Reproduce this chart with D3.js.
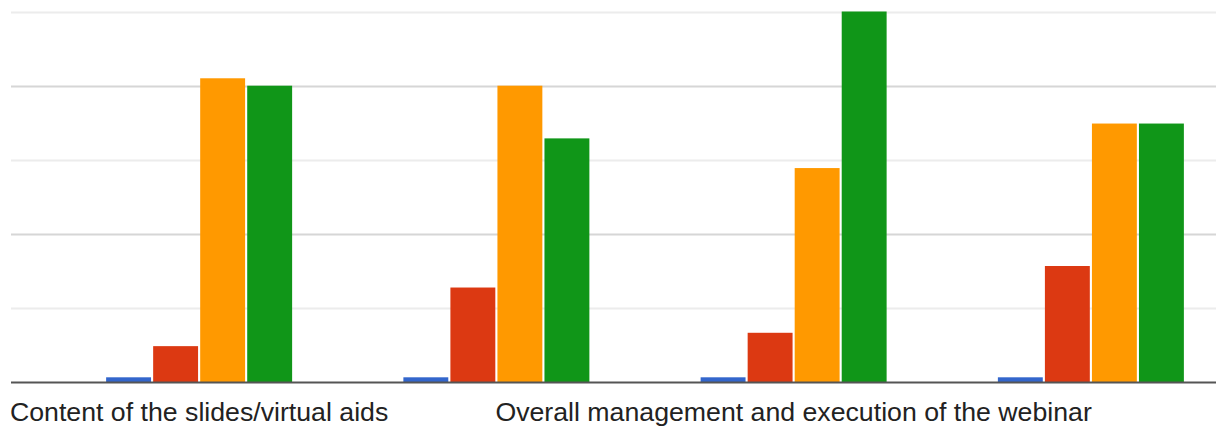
<!DOCTYPE html>
<html>
<head>
<meta charset="utf-8">
<script src="https://cdn.jsdelivr.net/npm/d3@7"></script>
<style>
  html, body { margin: 0; padding: 0; background: #fff; overflow: hidden; }
  svg { display: block; }
</style>
</head>
<body>
<svg id="chart" width="1216" height="429"></svg>
<script>
// ---- data ----
const categories = [
  "Content of the slides/virtual aids",
  "Presentation skills of the speaker",
  "Overall management and execution of the webinar",
  "Relevance of the topic"
];
const shownLabels = [true, false, true, false];
const seriesNames = ["Poor", "Fair", "Good", "Excellent"];
const seriesColors = ["#3366cc", "#dc3912", "#ff9900", "#109618"];
const poor      = [0.7, 0.7, 0.7, 0.7];
const fair      = [4.9, 12.8, 6.7, 15.7];
const good      = [41.0, 40.0, 28.9, 34.9];
const excellent = [40.0, 32.9, 50.0, 34.9];
const gridTicks = [10, 20, 30, 40, 50];
const majorTicks = [20, 40];

const seriesValues = [poor, fair, good, excellent];

// ---- layout ----
const W = 1216, H = 429;
const gridLeft = 11;
const baseY = 382.5, topY = 11.5;

const svg = d3.select("#chart");

const x0 = d3.scaleBand().domain(categories).range([50.5, 1239.5]).paddingInner(0).paddingOuter(0);
const groupW = 186;
const x1 = d3.scaleBand().domain(seriesNames).range([0, groupW]).paddingInner(0.045).paddingOuter(0);
const y = d3.scaleLinear().domain([0, 50]).range([baseY, topY]);

// gridlines
svg.append("g").selectAll("line").data(gridTicks).join("line")
  .attr("x1", gridLeft).attr("x2", W)
  .attr("y1", d => Math.round(y(d)) + 0.5).attr("y2", d => Math.round(y(d)) + 0.5)
  .attr("stroke", d => majorTicks.includes(d) ? "#d6d6d6" : "#ececec")
  .attr("stroke-width", 2);

// bars
const groups = svg.append("g").selectAll("g").data(categories).join("g")
  .attr("transform", c => `translate(${x0(c) + x0.bandwidth() / 2 - groupW / 2},0)`);

groups.selectAll("rect")
  .data((c, i) => seriesNames.map((s, j) => ({ s, v: seriesValues[j][i], color: seriesColors[j] })))
  .join("rect")
  .attr("x", d => x1(d.s))
  .attr("width", x1.bandwidth())
  .attr("y", d => y(d.v))
  .attr("height", d => baseY - y(d.v))
  .attr("fill", d => d.color);

// baseline
svg.append("line")
  .attr("x1", gridLeft).attr("x2", W)
  .attr("y1", baseY).attr("y2", baseY)
  .attr("stroke", "#555").attr("stroke-width", 2);

// category labels (every other one shown)
svg.append("g").selectAll("text").data(categories.filter((c, i) => shownLabels[i])).join("text")
  .attr("x", c => x0(c) + x0.bandwidth() / 2)
  .attr("y", 421)
  .attr("text-anchor", "middle")
  .attr("font-family", "Liberation Sans, Arial, sans-serif")
  .attr("font-size", 26.7)
  .attr("fill", "#222")
  .text(c => c);
</script>
</body>
</html>
